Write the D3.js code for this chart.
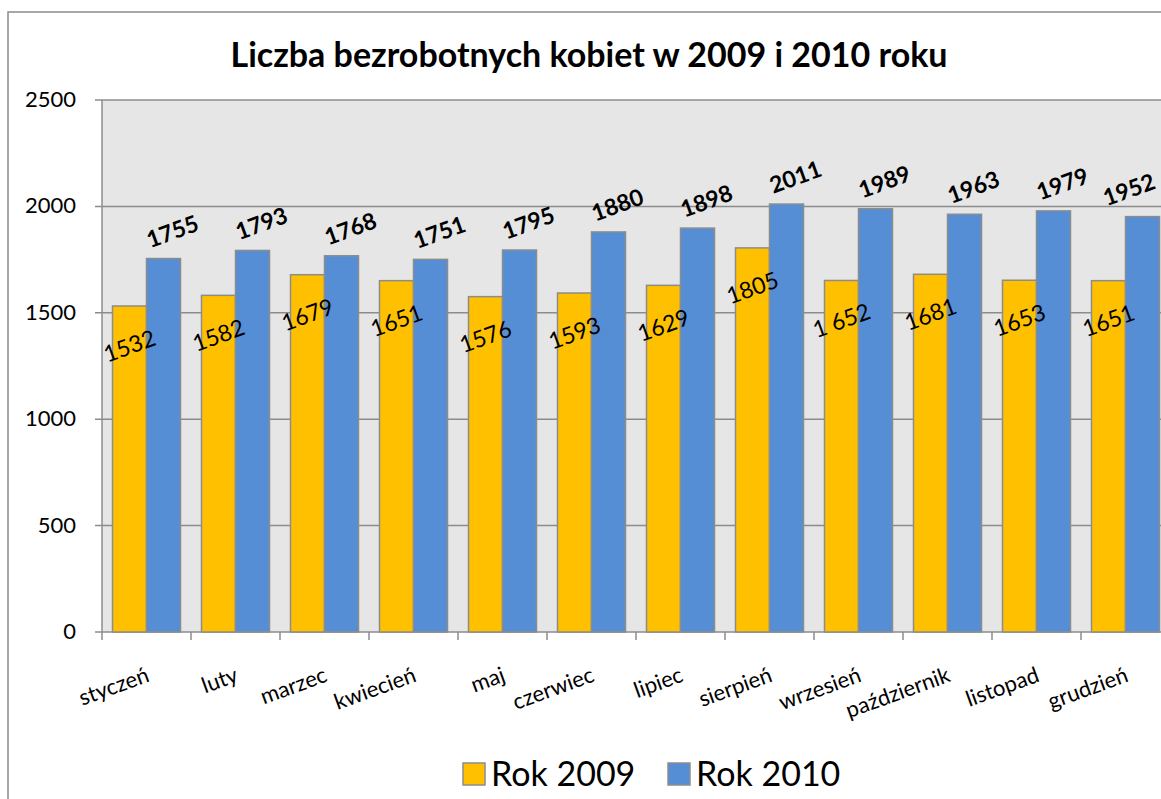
<!DOCTYPE html>
<html>
<head>
  <meta charset="utf-8">
  <title>Liczba bezrobotnych kobiet w 2009 i 2010 roku</title>
  <script src="https://d3js.org/d3.v7.min.js"></script>
  <style>
  body {
    margin: 0;
    background: #fff;
    font-family: Lato, "Open Sans", sans-serif;
  }
  .frame {
    fill: none;
    stroke: #8c8c8c;
    stroke-width: 1.5px;
  }
  .bar {
    stroke: #8c8c8c;
    stroke-width: 1.5px;
  }
  </style>
</head>
<body>
  <div id="chart"></div>
  <script>
    // dane
    var months = ["styczeń", "luty", "marzec", "kwiecień", "maj", "czerwiec",
                  "lipiec", "sierpień", "wrzesień", "październik", "listopad", "grudzień"];
    var rok2009 = [1532, 1582, 1679, 1651, 1576, 1593, 1629, 1805, 1652, 1681, 1653, 1651];
    var rok2010 = [1755, 1793, 1768, 1751, 1795, 1880, 1898, 2011, 1989, 1963, 1979, 1952];
    var labels2009 = ["1532", "1582", "1679", "1651", "1576", "1593", "1629", "1805", "1 652", "1681", "1653", "1651"];
    var seriesNames = ["Rok 2009", "Rok 2010"];
    var seriesColors = ["#ffc000", "#558ed5"];
    var yTicks = [0, 500, 1000, 1500, 2000, 2500];

    var width = 1161, height = 799;
    var plotLeft = 102, plotTop = 100, plotBottom = 632;

    var svg = d3.select("#chart").append("svg")
      .attr("width", width)
      .attr("height", height);

    // ramka wykresu
    svg.append("rect").attr("class", "frame")
      .attr("x", 8).attr("y", 12)
      .attr("width", width + 20).attr("height", height + 20);

    var x = d3.scaleBand()
      .domain(months)
      .range([plotLeft, plotLeft + 89 * months.length]);

    var xInner = d3.scaleBand()
      .domain(seriesNames)
      .range([10.5, 78.5]);

    var y = d3.scaleLinear()
      .domain([0, 2500])
      .range([plotBottom, plotTop]);

    // tło obszaru wykresu
    svg.append("rect")
      .attr("x", plotLeft).attr("y", plotTop)
      .attr("width", width - plotLeft).attr("height", plotBottom - plotTop)
      .attr("fill", "#e6e6e6");

    // linie siatki
    svg.selectAll(".grid")
      .data(yTicks)
      .enter().append("line")
      .attr("x1", plotLeft - 7).attr("x2", width)
      .attr("y1", function(d) { return y(d); })
      .attr("y2", function(d) { return y(d); })
      .attr("stroke", "#8c8c8c")
      .attr("stroke-width", 1.5);

    svg.selectAll(".ytick")
      .data(yTicks)
      .enter().append("text")
      .attr("x", 76)
      .attr("y", function(d) { return y(d) + 7; })
      .attr("text-anchor", "end")
      .style("font-size", "22px")
      .attr("fill", "#000")
      .text(function(d) { return d; });

    // oś Y
    svg.append("line")
      .attr("x1", plotLeft).attr("x2", plotLeft)
      .attr("y1", plotTop).attr("y2", plotBottom + 8)
      .attr("stroke", "#8c8c8c").attr("stroke-width", 1.5);

    // znaczniki osi X
    svg.selectAll(".xtick")
      .data(months.slice(1))
      .enter().append("line")
      .attr("x1", function(d) { return x(d); })
      .attr("x2", function(d) { return x(d); })
      .attr("y1", plotBottom).attr("y2", plotBottom + 8)
      .attr("stroke", "#8c8c8c").attr("stroke-width", 1.5);

    var data = months.map(function(m, i) {
      return { month: m, values: [rok2009[i], rok2010[i]], label2009: labels2009[i] };
    });

    var group = svg.selectAll(".month")
      .data(data)
      .enter().append("g")
      .attr("transform", function(d) { return "translate(" + x(d.month) + ",0)"; });

    group.selectAll("rect")
      .data(function(d) { return d.values.map(function(v, k) { return { v: v, k: k }; }); })
      .enter().append("rect")
      .attr("class", "bar")
      .attr("x", function(d) { return xInner(seriesNames[d.k]); })
      .attr("y", function(d) { return y(d.v); })
      .attr("width", xInner.bandwidth())
      .attr("height", function(d) { return plotBottom - y(d.v); })
      .attr("fill", function(d) { return seriesColors[d.k]; });

    // etykiety 2009 (wewnątrz słupka)
    group.append("text")
      .attr("transform", function(d) {
        var cx = xInner("Rok 2009") + xInner.bandwidth() / 2;
        return "translate(" + cx + "," + (y(d.values[0]) + 40) + ") rotate(-20)";
      })
      .attr("text-anchor", "middle")
      .attr("dy", "0.35em")
      .style("font-size", "23px")
      .text(function(d) { return d.label2009; });

    // etykiety 2010 (nad słupkiem, pogrubione) - przesunięte, żeby nie wychodziły poza obraz
    group.append("text")
      .attr("transform", function(d) {
        var cx = xInner("Rok 2010") + xInner.bandwidth() / 2 + 9;
        cx = Math.min(cx, width - 32 - x(d.month));
        return "translate(" + cx + "," + (y(d.values[1]) - 27) + ") rotate(-20)";
      })
      .attr("text-anchor", "middle")
      .attr("dy", "0.35em")
      .style("font-size", "23px")
      .style("font-weight", "bold")
      .text(function(d) { return d.values[1]; });

    // etykiety miesięcy
    svg.selectAll(".xlabel")
      .data(months)
      .enter().append("text")
      .attr("transform", function(d) {
        return "translate(" + (x(d) + x.bandwidth() / 2 + 4) + "," + 681 + ") rotate(-20)";
      })
      .attr("text-anchor", "end")
      .style("font-size", "22px")
      .text(function(d) { return d; });

    // tytuł
    svg.append("text")
      .attr("x", 589).attr("y", 67)
      .attr("text-anchor", "middle")
      .style("font-size", "34px")
      .style("font-weight", "bold")
      .text("Liczba bezrobotnych kobiet w 2009 i 2010 roku");

    // legenda
    var legendX = [463, 668];
    var legend = svg.selectAll(".legend")
      .data(seriesNames)
      .enter().append("g")
      .attr("transform", function(d, i) { return "translate(" + legendX[i] + ",763)"; });

    legend.append("rect")
      .attr("width", 22).attr("height", 22)
      .attr("fill", function(d, i) { return seriesColors[i]; })
      .attr("stroke", "#8c8c8c").attr("stroke-width", 1.5);

    legend.append("text")
      .attr("x", 28).attr("y", 23)
      .style("font-size", "34px")
      .text(function(d) { return d; });
  </script>
</body>
</html>
